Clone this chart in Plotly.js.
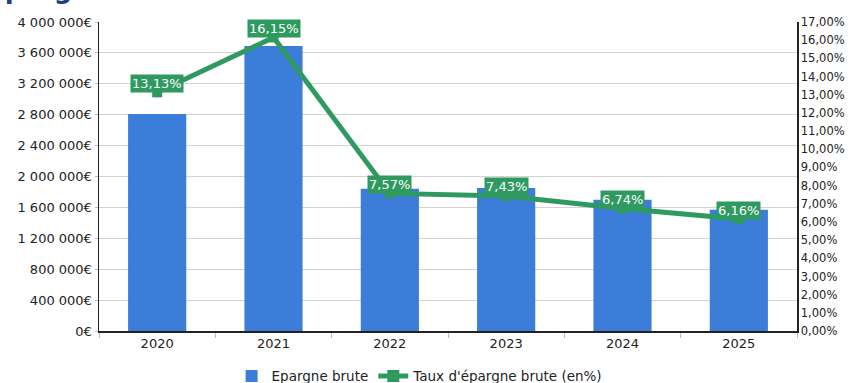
<!DOCTYPE html>
<html>
<head>
<meta charset="utf-8">
<script src="https://cdn.plot.ly/plotly-3.0.1.min.js"></script>
<style>html,body{margin:0;padding:0;background:#fff;}#chart{width:856px;height:383px;}</style>
</head>
<body>
<div id="chart"></div>
<script>
const years = ['2020', '2021', '2022', '2023', '2024', '2025'];
const epargneBrute = [2810000, 3690000, 1840000, 1850000, 1700000, 1570000];
const tauxEpargne = [13.13, 16.15, 7.57, 7.43, 6.74, 6.16];
const seriesNames = ['Epargne brute', "Taux d'épargne brute (en%)"];
const chartTitle = 'Épargne brute';

const blue = '#3b7dd8';
const green = '#2e9a5f';

const traces = [
  {
    type: 'bar', x: years, y: epargneBrute, name: seriesNames[0],
    marker: {color: blue}, width: 0.5, hoverinfo: 'none'
  },
  {
    type: 'scatter', mode: 'lines+markers', x: years, y: tauxEpargne, yaxis: 'y2',
    name: seriesNames[1], line: {color: green, width: 5},
    marker: {symbol: 'square', size: 10, color: green}, hoverinfo: 'none'
  }
];

const fmt = v => v.toFixed(2).replace('.', ',') + '%';
const annotations = years.map((yr, i) => ({
  x: i, y: tauxEpargne[i], xref: 'x', yref: 'y2', text: fmt(tauxEpargne[i]),
  showarrow: false, yshift: 9, bgcolor: green, borderpad: 1,
  font: {family: 'DejaVu Sans', size: 13, color: '#ffffff'}
}));
annotations.push({
  xref: 'paper', yref: 'paper', x: -0.163, y: 1.108, xanchor: 'left', yanchor: 'middle',
  text: '<b>' + chartTitle + '</b>', showarrow: false,
  font: {family: 'DejaVu Sans', size: 26, color: '#1d3f7a'}
});

const layout = {
  width: 856, height: 383,
  margin: {l: 99, r: 59, t: 22, b: 52},
  paper_bgcolor: '#ffffff', plot_bgcolor: '#ffffff',
  separators: ', ',
  font: {family: 'DejaVu Sans', size: 12, color: '#222'},
  showlegend: true,
  legend: {orientation: 'h', xref: 'paper', x: 0.46, xanchor: 'center',
    yref: 'container', y: 0.058, yanchor: 'top',
    font: {size: 13.5, color: '#222'}, itemsizing: 'constant'},
  xaxis: {
    type: 'category', range: [-0.5, 5.5], showline: true, linecolor: '#222', linewidth: 1.5,
    ticks: 'outside', tickson: 'boundaries', ticklen: 5, tickcolor: '#bbb',
    tickfont: {size: 13, color: '#222'}, showgrid: false, fixedrange: true, tickangle: 0
  },
  yaxis: {
    range: [0, 4000000], dtick: 400000, tickformat: ',.0f', ticksuffix: '€',
    showline: true, linecolor: '#222', linewidth: 1.5,
    ticks: 'outside', ticklen: 3, tickcolor: '#bbb',
    gridcolor: '#d3d3d3', zeroline: false, tickfont: {size: 13, color: '#222'}, fixedrange: true
  },
  yaxis2: {
    range: [0, 17], dtick: 1, tickformat: '.2f', ticksuffix: '%', overlaying: 'y', side: 'right',
    showline: true, linecolor: '#222', linewidth: 1.5, showgrid: false, zeroline: false,
    ticks: '', tickfont: {size: 11.5, color: '#222'}, fixedrange: true
  },
  annotations: annotations,
  hovermode: false
};

Plotly.newPlot('chart', traces, layout, {displayModeBar: false, staticPlot: true});
</script>
</body>
</html>
